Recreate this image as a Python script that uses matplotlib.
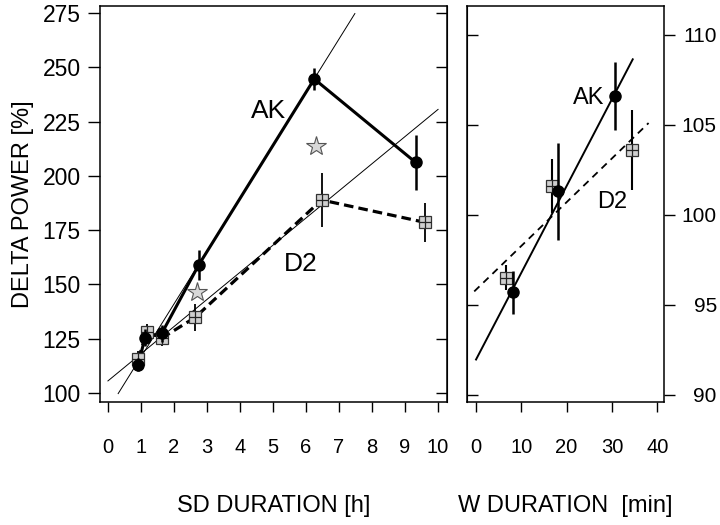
import numpy as np
import matplotlib
matplotlib.use("Agg")
import matplotlib.pyplot as plt

plt.rcParams["font.family"] = ["Liberation Sans", "DejaVu Sans"]

# === SD duration panel (left) ===
ak_sd_h = [0.92, 1.12, 1.63, 2.75, 6.25, 9.32]
ak_sd_val = [113, 125.5, 127.5, 159, 244.6, 206.2]
ak_sd_err = [3, 4, 4, 7, 5.2, 12.5]

d2_sd_h = [0.92, 1.17, 1.65, 2.64, 6.47, 9.6]
d2_sd_val = [115.5, 128, 125.5, 134.8, 188.9, 178.6]
d2_sd_err = [4, 4, 4, 6, 12.5, 9]

star_h = [2.69, 6.29]
star_val = [146.6, 213.9]

# regression lines (intercept, slope, x-range)
ak_sd_fit = (92.2, 24.4, [0.31, 7.48])
d2_sd_fit = (105.6, 12.5, [0.0, 10.0])

# === W duration panel (right) ===
ak_w_min = [8.1, 18.2, 30.7]
ak_w_val = [95.7, 101.3, 106.6]
ak_w_err = [1.2, 2.7, 1.9]

d2_w_min = [6.6, 16.7, 34.4]
d2_w_val = [96.5, 101.6, 103.6]
d2_w_err = [0.7, 1.5, 2.2]

ak_w_fit = (91.96, 0.482, [0.0, 34.6])
d2_w_fit = (95.84, 0.243, [-0.4, 38.1])

sq_face = "#cfcfcf"

fig = plt.figure(figsize=(7.2, 5.25), dpi=100)
ax1 = fig.add_axes([0.1389, 0.2343, 0.4819, 0.7543])
ax2 = fig.add_axes([0.6486, 0.2343, 0.2736, 0.7543])


def fit_line(ax, fit, **kw):
    b, m, xr = fit
    xr = np.array(xr)
    ax.plot(xr, b + m * xr, **kw)


# --- left panel ---
fit_line(ax1, ak_sd_fit, color="black", lw=0.7, zorder=1)
fit_line(ax1, d2_sd_fit, color="black", lw=0.7, zorder=1)
ax1.plot(d2_sd_h, d2_sd_val, color="black", lw=2.3, ls=(0, (3, 1.6)), zorder=2)
ax1.plot(ak_sd_h, ak_sd_val, color="black", lw=2.2, zorder=3)
ax1.errorbar(d2_sd_h, d2_sd_val, yerr=d2_sd_err, fmt="none", ecolor="black",
             elinewidth=1.3, capsize=0, zorder=4)
ax1.plot(d2_sd_h, d2_sd_val, "s", ms=8.5, mfc=sq_face, mec="#333333", mew=0.9, zorder=5)
ax1.plot(d2_sd_h, d2_sd_val, "+", ms=8.5, color="#222222", mew=0.9, zorder=6)
ax1.errorbar(ak_sd_h, ak_sd_val, yerr=ak_sd_err, fmt="o", color="black",
             ms=8, elinewidth=1.8, capsize=0, zorder=7)
ax1.plot(star_h, star_val, "*", ms=15, mfc="#d8d8d8", mec="#555555", mew=0.8, zorder=8)

ax1.text(4.85, 229.8, "AK", fontsize=19, ha="center", va="center")
ax1.text(5.85, 159.4, "D2", fontsize=19, ha="center", va="center")

ax1.set_xlim(-0.24, 10.27)
ax1.set_ylim(95.9, 278.2)
ax1.set_xticks(range(0, 11))
ax1.set_yticks(range(100, 276, 25))
ax1.tick_params(axis="x", direction="out", length=7, width=1, pad=19, labelsize=14.5)
ax1.tick_params(axis="y", direction="out", length=9, width=1, pad=5, labelsize=16.5)
ax1.set_ylabel("DELTA POWER [%]", fontsize=17, labelpad=6)
ax1.set_xlabel("SD DURATION [h]", fontsize=17, labelpad=27)
sec1 = ax1.secondary_yaxis("right")
sec1.set_yticks(range(100, 276, 25))
sec1.tick_params(direction="in", length=8, width=1, labelright=False)

# --- right panel ---
fit_line(ax2, ak_w_fit, color="black", lw=1.4, zorder=1)
fit_line(ax2, d2_w_fit, color="black", lw=1.3, ls=(0, (4, 3)), zorder=1)
ax2.errorbar(d2_w_min, d2_w_val, yerr=d2_w_err, fmt="none", ecolor="black",
             elinewidth=1.5, capsize=0, zorder=4)
ax2.plot(d2_w_min, d2_w_val, "s", ms=8.5, mfc=sq_face, mec="#333333", mew=0.9, zorder=5)
ax2.plot(d2_w_min, d2_w_val, "+", ms=8.5, color="#222222", mew=0.9, zorder=6)
ax2.errorbar(ak_w_min, ak_w_val, yerr=ak_w_err, fmt="o", color="black",
             ms=8, elinewidth=1.8, capsize=0, zorder=7)

ax2.text(24.8, 106.5, "AK", fontsize=17, ha="center", va="center")
ax2.text(30.0, 100.7, "D2", fontsize=17, ha="center", va="center")

ax2.set_xlim(-2, 41.5)
ax2.set_ylim(89.6, 111.6)
ax2.set_xticks(range(0, 41, 10))
ax2.set_yticks(range(90, 111, 5))
ax2.yaxis.tick_right()
ax2.tick_params(axis="x", direction="out", length=7, width=1, pad=19, labelsize=14.5)
ax2.tick_params(axis="y", direction="out", length=8, width=1, pad=30, labelsize=15)
for lbl in ax2.get_yticklabels():
    lbl.set_horizontalalignment("right")
ax2.set_xlabel("W DURATION  [min]", fontsize=17, labelpad=27)
sec2 = ax2.secondary_yaxis("left")
sec2.set_yticks(range(90, 111, 5))
sec2.tick_params(direction="in", length=8, width=1, labelleft=False)

for ax in (ax1, ax2):
    for sp in ax.spines.values():
        sp.set_linewidth(1.1)

fig.savefig("out.png", dpi=100)
